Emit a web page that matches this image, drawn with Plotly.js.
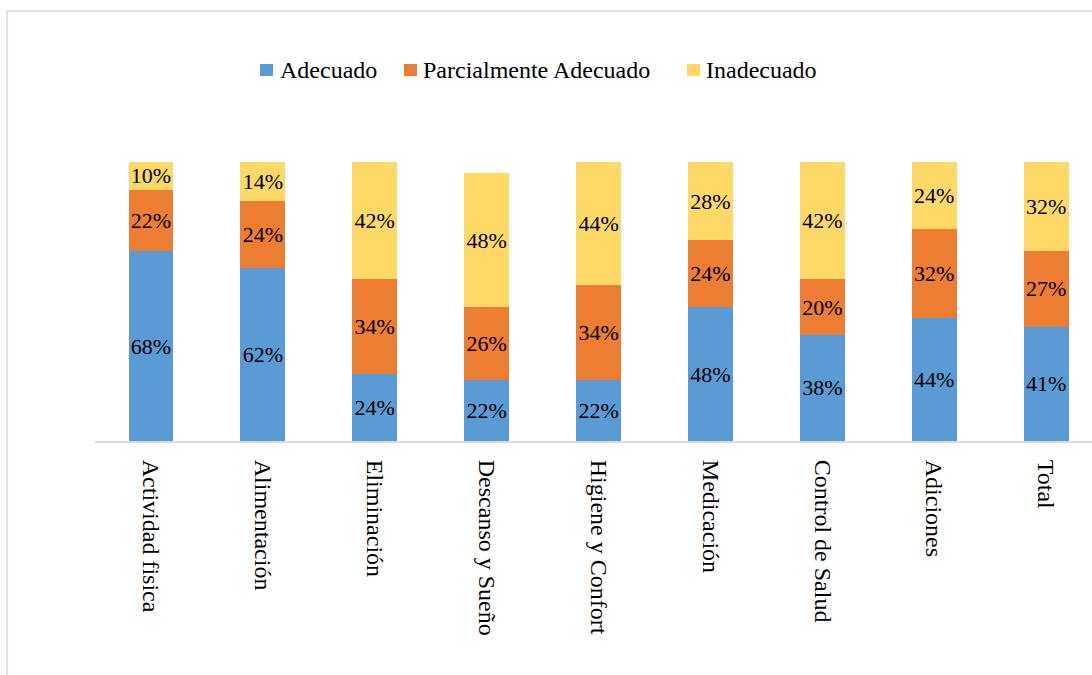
<!DOCTYPE html>
<html>
<head>
<meta charset="utf-8">
<script src="https://cdn.plot.ly/plotly-3.0.1.min.js"></script>
<style>
html,body{margin:0;padding:0;background:#fff;}
#chart{width:1092px;height:675px;}
</style>
</head>
<body>
<div id="chart"></div>
<script>
const categories = ["Actividad fisica","Alimentación","Eliminación","Descanso y Sueño","Higiene y Confort","Medicación","Control de Salud","Adiciones","Total"];
const adecuado = [68,62,24,22,22,48,38,44,41];
const parcialmente = [22,24,34,26,34,24,20,32,27];
const inadecuado = [10,14,42,48,44,28,42,24,32];
const seriesNames = ["Adecuado","Parcialmente Adecuado","Inadecuado"];

const colors = ["#5b9bd5","#ed7d31","#ffd966"];
const font = "Liberation Serif, Times New Roman, serif";

function mk(name, vals, color){
  return {
    type:"bar", name:name, x:categories, y:vals,
    marker:{color:color},
    text: vals.map(v=>v+"%"), textposition:"inside", insidetextanchor:"middle", textangle:0,
    textfont:{family:font,size:22,color:"#000"},
    hoverinfo:"skip", width:0.4, cliponaxis:false, constraintext:"none"
  };
}
const data = [
  mk(seriesNames[0], adecuado, colors[0]),
  mk(seriesNames[1], parcialmente, colors[1]),
  mk(seriesNames[2], inadecuado, colors[2])
];

const L=95, W=997, T=162, H=279;
function px(x){return (x-L)/W;}
function py(y){return 1-(y-T)/H;}

// custom legend (square + text)
const legSquares = [260, 404, 687];
const legTexts = [278, 421, 704];
const shapes = [{type:"rect", xref:"paper", yref:"paper", x0:px(7), x1:px(1100), y0:py(11), y1:py(700),
           line:{color:"#dde3ea", width:2}, fillcolor:"rgba(0,0,0,0)", layer:"below"}];
const annotations = [];
seriesNames.forEach((n,i)=>{
  shapes.push({type:"rect", xref:"paper", yref:"paper", x0:px(legSquares[i]), x1:px(legSquares[i]+13),
    y0:py(76), y1:py(64), line:{width:0}, fillcolor:colors[i]});
  annotations.push({xref:"paper", yref:"paper", x:px(legTexts[i]), y:py(70), xanchor:"left", yanchor:"middle",
    text:n, showarrow:false, font:{family:font,size:24,color:"#000"}});
});

const layout = {
  width:1092, height:675,
  margin:{l:L, r:0, t:T, b:675-T-H},
  barmode:"stack",
  paper_bgcolor:"#fff", plot_bgcolor:"#fff",
  font:{family:font, size:22, color:"#000"},
  showlegend:false,
  xaxis:{type:"category", range:[-0.5, 8.41], tickangle:90, showline:true, linecolor:"#d9d9d9", linewidth:2,
         ticks:"", ticklabelstandoff:12, tickfont:{family:font,size:24,color:"#000"}, showgrid:false, zeroline:false, fixedrange:true},
  yaxis:{range:[0,100], visible:false, showgrid:false, zeroline:false, fixedrange:true},
  shapes:shapes,
  annotations:annotations
};

Plotly.newPlot("chart", data, layout, {displayModeBar:false, staticPlot:true});
</script>
</body>
</html>
